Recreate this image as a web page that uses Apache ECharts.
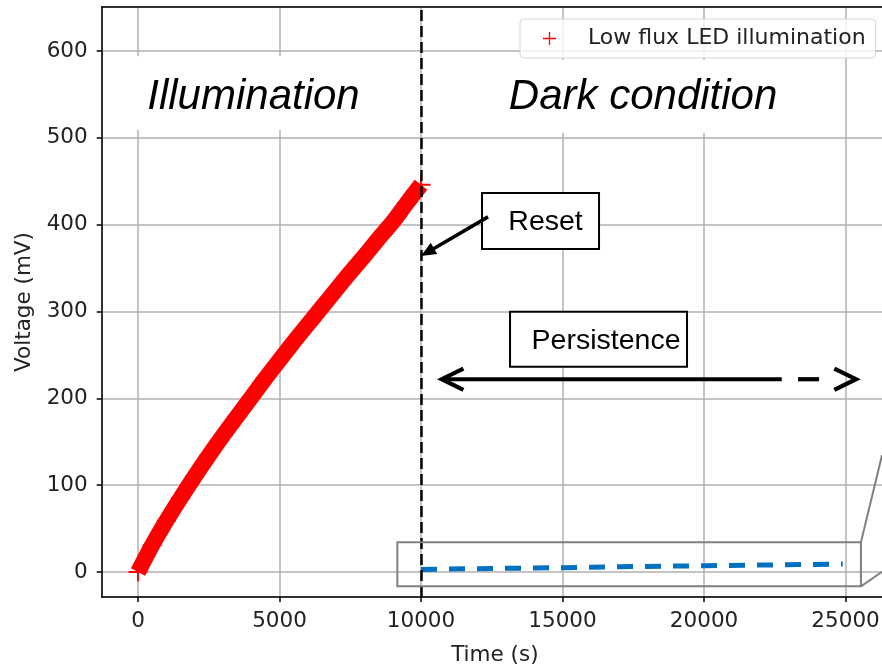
<!DOCTYPE html>
<html>
<head>
<meta charset="utf-8">
<script src="https://cdn.jsdelivr.net/npm/echarts@6/dist/echarts.min.js"></script>
<style>
  html, body { margin: 0; padding: 0; background: #fff; }
  #chart { width: 882px; height: 667px; }
</style>
</head>
<body>
<div id="chart"></div>
<script>
// Voltage build-up under low-flux LED illumination (s, mV)
const illumTime = [0, 500, 1000, 1500, 2000, 2500, 3000, 3500, 4000, 4500, 5000,
                   5500, 6000, 6500, 7000, 7500, 8000, 8500, 9000, 9500, 10000];
const illumVoltage = [0, 31, 59, 85, 110, 134, 157, 179, 201, 223, 244,
                      265, 285, 305, 325, 345, 364, 384, 403, 425, 446];

// Dark-condition persistence after reset (s, mV)
const darkTime = [10000, 12500, 15000, 17500, 20000, 22500, 24900];
const darkVoltage = [3, 4, 5, 6.2, 7.2, 8.2, 9.2];

// Moment of reset (s)
const resetTime = 10000;

// Axis ranges
const timeRange = [-1283, 26500];
const voltageRange = [-28.8, 650.7];

const seriesName = 'Low flux LED illumination';
const PLUS = 'path://M9,0h2v9h9v2h-9v9h-2v-9h-9v-2h9z';
const FONT = "'DejaVu Sans', sans-serif";
const ARIAL = "'Liberation Sans', Arial, sans-serif";
const TXT = '#222';

const chart = echarts.init(document.getElementById('chart'), null, { renderer: 'canvas' });

const axisLineStyle = { color: '#000', width: 1.5 };
const gridLineStyle = { color: '#b0b0b0', width: 1.5 };
const plain = v => String(v);

chart.setOption({
  animation: false,
  backgroundColor: '#fff',
  grid: { left: 101.7, top: 7, right: -6, bottom: 70, containLabel: false, outerBoundsMode: 'none' },
  legend: {
    data: [{ name: seriesName, icon: PLUS }],
    left: 520, top: 19,
    padding: [7, 10, 7, 23],
    itemWidth: 13, itemHeight: 13,
    backgroundColor: 'rgba(255,255,255,0.8)',
    borderColor: '#d4d4d4', borderWidth: 1, borderRadius: 4,
    textStyle: { fontFamily: FONT, fontSize: 22, color: TXT, padding: [0, 0, 0, 27], lineHeight: 25 },
    z: 10
  },
  xAxis: [{
    type: 'value', min: timeRange[0], max: timeRange[1], splitNumber: 5,
    name: 'Time (s)', nameLocation: 'middle', nameGap: 47,
    nameTextStyle: { fontFamily: FONT, fontSize: 21.5, color: TXT },
    axisLine: { show: true, onZero: false, lineStyle: axisLineStyle },
    axisTick: { show: true, length: 5, lineStyle: axisLineStyle },
    axisLabel: { margin: 13, fontFamily: FONT, fontSize: 21.5, color: TXT, showMinLabel: false, showMaxLabel: false, formatter: plain },
    splitLine: { show: true, lineStyle: gridLineStyle }
  }, {
    type: 'value', position: 'top', min: timeRange[0], max: timeRange[1],
    axisLine: { show: true, onZero: false, lineStyle: axisLineStyle },
    axisTick: { show: false }, axisLabel: { show: false }, splitLine: { show: false }
  }],
  yAxis: [{
    type: 'value', min: voltageRange[0], max: voltageRange[1], splitNumber: 7,
    name: 'Voltage (mV)', nameLocation: 'middle', nameGap: 66, nameRotate: 90,
    nameTextStyle: { fontFamily: FONT, fontSize: 21.5, color: TXT },
    axisLine: { show: true, onZero: false, lineStyle: axisLineStyle },
    axisTick: { show: true, length: 5, lineStyle: axisLineStyle },
    axisLabel: { margin: 14, fontFamily: FONT, fontSize: 21.5, color: TXT, showMinLabel: false, showMaxLabel: false, formatter: plain },
    splitLine: { show: true, lineStyle: gridLineStyle }
  }],
  series: [{
    name: seriesName,
    type: 'line',
    data: illumTime.map((t, i) => [t, illumVoltage[i]]),
    smooth: 0.3,
    symbol: PLUS, symbolSize: 19, showSymbol: true,
    itemStyle: { color: '#ff0000' },
    lineStyle: { color: '#ff0000', width: 16 },
    z: 3
  }, {
    name: 'Dark condition',
    type: 'line',
    data: darkTime.map((t, i) => [t, darkVoltage[i]]),
    symbol: 'none',
    lineStyle: { color: '#0070c0', width: 5, type: [16, 12] },
    z: 3,
    markLine: {
      silent: true, symbol: ['none', 'none'],
      label: { show: false },
      lineStyle: { color: '#000', width: 2.5, type: [11, 5] },
      data: [{ xAxis: resetTime }]
    }
  }]
});

// Annotations, positioned in data units
const px = (t, v) => chart.convertToPixel({ xAxisIndex: 0, yAxisIndex: 0 }, [t, v]);

const regionLabels = [
  { text: 'Illumination', box: [-1237, 594, 9788, 509], at: [4080, 547] },
  { text: 'Dark condition', box: [10141, 590, 23463, 506], at: [17845, 547] }
];
const boxedLabels = [
  { text: 'Reset', box: [12155, 436.5, 16290, 372], at: [14399, 403.4] },
  { text: 'Persistence', box: [13145, 299.8, 19399, 236.4], at: [16537, 266] }
];
const resetArrow = { from: [12367, 409], to: [resetTime, 364] };
const persistArrow = { v: 222, left: 10731, solidEnd: 22746, dash: [23322, 24064], right: 25371 };
const zoomBox = { box: [9163, 34.2, 25544, -16.5], upper: [26290, 134.7], lower: [26290, 0.3] };

function rectFrom(b) {
  const p0 = px(b[0], b[1]), p1 = px(b[2], b[3]);
  return { x: p0[0], y: p0[1], width: p1[0] - p0[0], height: p1[1] - p0[1] };
}

const els = [];
regionLabels.forEach(l => {
  els.push({ type: 'rect', shape: rectFrom(l.box), style: { fill: '#fff' }, z: 3 });
  const c = px(l.at[0], l.at[1]);
  els.push({ type: 'text', x: c[0], y: c[1], z: 4,
    style: { text: l.text, font: 'italic 42px ' + ARIAL, fill: '#000', align: 'center', verticalAlign: 'middle' } });
});
boxedLabels.forEach(l => {
  els.push({ type: 'rect', shape: rectFrom(l.box), style: { fill: '#fff', stroke: '#000', lineWidth: 2 }, z: 4 });
  const c = px(l.at[0], l.at[1]);
  els.push({ type: 'text', x: c[0], y: c[1], z: 5,
    style: { text: l.text, font: '28.5px ' + ARIAL, fill: '#000', align: 'center', verticalAlign: 'middle' } });
});

// Reset arrow with a filled head
(function () {
  const a = px(resetArrow.from[0], resetArrow.from[1]);
  const b = px(resetArrow.to[0], resetArrow.to[1]);
  const dx = b[0] - a[0], dy = b[1] - a[1], L = Math.hypot(dx, dy);
  const ux = dx / L, uy = dy / L, len = 15, half = 6.5;
  const bx = b[0] - ux * len, by = b[1] - uy * len;
  els.push({ type: 'line', z: 5, shape: { x1: a[0], y1: a[1], x2: bx + ux * 2, y2: by + uy * 2 },
    style: { stroke: '#000', lineWidth: 3.5 } });
  els.push({ type: 'polygon', z: 5, shape: { points: [[b[0], b[1]], [bx - uy * half, by + ux * half], [bx + uy * half, by - ux * half]] },
    style: { fill: '#000' } });
})();

// Persistence double arrow: solid, then dashed towards the right
(function () {
  const L = px(persistArrow.left, persistArrow.v);
  const S = px(persistArrow.solidEnd, persistArrow.v);
  const D0 = px(persistArrow.dash[0], persistArrow.v);
  const D1 = px(persistArrow.dash[1], persistArrow.v);
  const R = px(persistArrow.right, persistArrow.v);
  const st = { stroke: '#000', lineWidth: 4.2 };
  const hx = 21.7, hy = 10.7;
  els.push({ type: 'line', z: 5, shape: { x1: L[0] + 1, y1: L[1], x2: S[0], y2: S[1] }, style: st });
  els.push({ type: 'line', z: 5, shape: { x1: D0[0], y1: D0[1], x2: D1[0], y2: D1[1] }, style: st });
  els.push({ type: 'polyline', z: 5, shape: { points: [[L[0] + hx, L[1] - hy], [L[0], L[1]], [L[0] + hx, L[1] + hy]] },
    style: Object.assign({ fill: null, lineJoin: 'miter' }, st) });
  els.push({ type: 'polyline', z: 5, shape: { points: [[R[0] - hx, R[1] - hy], [R[0], R[1]], [R[0] - hx, R[1] + hy]] },
    style: Object.assign({ fill: null, lineJoin: 'miter' }, st) });
})();

// Zoom indicator box with connector lines
(function () {
  const r = rectFrom(zoomBox.box);
  const gs = { stroke: '#808080', lineWidth: 2, fill: null };
  els.push({ type: 'rect', z: 5, shape: r, style: gs });
  const tr = [r.x + r.width, r.y], br = [r.x + r.width, r.y + r.height];
  const u = px(zoomBox.upper[0], zoomBox.upper[1]), w = px(zoomBox.lower[0], zoomBox.lower[1]);
  els.push({ type: 'line', z: 5, shape: { x1: tr[0], y1: tr[1], x2: u[0], y2: u[1] }, style: gs });
  els.push({ type: 'line', z: 5, shape: { x1: br[0], y1: br[1], x2: w[0], y2: w[1] }, style: gs });
})();

chart.setOption({ graphic: { elements: els } });
</script>
</body>
</html>
